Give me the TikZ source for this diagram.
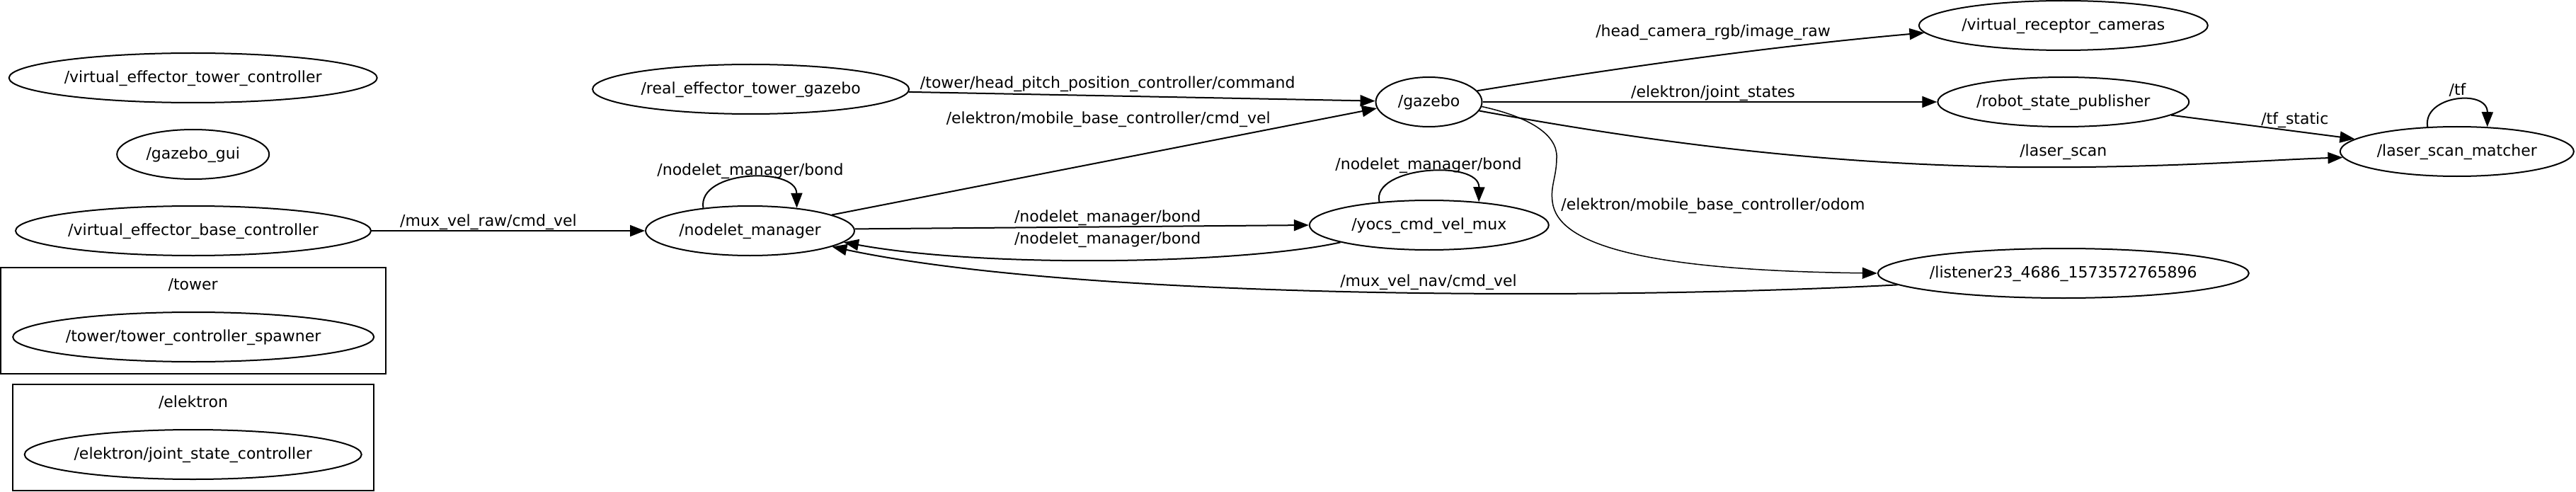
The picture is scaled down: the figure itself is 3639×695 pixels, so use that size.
\documentclass[tikz,border=0pt]{standalone}
\usepackage{fontspec}
\setmainfont{DejaVu Sans}
\usetikzlibrary{shapes.geometric,arrows.meta}
\begin{document}
\begin{tikzpicture}[x=1pt,y=-1pt,
  every node/.style={font=\fontsize{22}{26}\selectfont, text height=15pt, text depth=2pt},
  nd/.style={ellipse, draw, line width=2pt, inner xsep=0pt, inner ysep=0pt, minimum height=70pt},
  lbl/.style={inner sep=0pt},
  conn/.style={line width=2pt, -{Triangle[length=21pt,width=16pt]}},
  cluster/.style={draw, line width=2pt}]
\useasboundingbox (0,0) rectangle (3639,695);

% clusters
\draw[cluster] (1,378) rectangle (544.5,528);
\node[lbl] (ltower) at (272.7,403) {/tower};
\draw[cluster] (17.8,543) rectangle (528,693);
\node[lbl] (lelektron) at (273,569) {/elektron};

% nodes
\node[nd, minimum width=520pt] (vetc) at (272.7,110) {/virtual\_effector\_tower\_controller};
\node[nd, minimum width=215pt] (ggui) at (272.7,218) {/gazebo\_gui};
\node[nd, minimum width=502pt] (vebc) at (273,326) {/virtual\_effector\_base\_controller};
\node[nd, minimum width=510pt] (tcs) at (273.2,476) {/tower/tower\_controller\_spawner};
\node[nd, minimum width=476pt] (jsc) at (272.7,642) {/elektron/joint\_state\_controller};
\node[nd, minimum width=447pt] (retg) at (1060.6,126) {/real\_effector\_tower\_gazebo};
\node[nd, minimum width=295pt] (nm) at (1059.5,326) {/nodelet\_manager};
\node[nd, minimum width=150pt] (gz) at (2018.5,144) {/gazebo};
\node[nd, minimum width=338pt] (ycvm) at (2018.8,318) {/yocs\_cmd\_vel\_mux};
\node[nd, minimum width=408pt] (vrc) at (2914.8,36) {/virtual\_receptor\_cameras};
\node[nd, minimum width=355pt] (rsp) at (2914.8,144) {/robot\_state\_publisher};
\node[nd, minimum width=330pt] (lsm) at (3470.8,214) {/laser\_scan\_matcher};
\node[nd, minimum width=524pt, inner xsep=-4pt] (lst) at (2914.8,386) {/listener23\_4686\_1573572765896};

% edges
\draw[conn] (vebc.east) -- (nm.west);
\draw[conn] (retg.-1) -- (gz.179);
\draw[conn] (nm.11) -- (gz.187);
\draw[conn] (nm.154) .. controls (985,240) and (1125,235) .. (nm.26);
\draw[conn] (nm.1) -- (ycvm.west);
\draw[conn] (ycvm.191) .. controls (1760,372) and (1400,380) .. (nm.-7);
\draw[conn] (lst.184) .. controls (2250,425) and (1520,422) .. (nm.-11);
\draw[conn] (gz.13) .. controls (2200,110) and (2450,70) .. (vrc.183);
\draw[conn] (gz.east) -- (rsp.west);
\draw[conn] (gz.-10) .. controls (2300,195) and (2550,232) .. (2850,236) .. controls (3050,238) and (3200,226) .. (lsm.183);
\draw[conn, line width=1.5pt] (gz.-5) .. controls (2160,165) and (2200,190) .. (2199,222) .. controls (2199,250) and (2190,262) .. (2193,285) .. controls (2200,345) and (2320,382) .. (lst.west);
\draw[conn] (rsp.-7) -- (lsm.173);
\draw[conn] (lsm.140) .. controls (3422,135) and (3514,125) .. (lsm.39);
\draw[conn] (ycvm.155) .. controls (1937,235) and (2090,225) .. (ycvm.25);

% edge labels
\node[lbl] (l1) at (690,313) {/mux\_vel\_raw/cmd\_vel};
\node[lbl] (l2) at (1564.7,118) {/tower/head\_pitch\_position\_controller/command};
\node[lbl] (l3) at (1565.7,168) {/elektron/mobile\_base\_controller/cmd\_vel};
\node[lbl] (l4) at (1060,241) {/nodelet\_manager/bond};
\node[lbl] (l5) at (1564.6,307) {/nodelet\_manager/bond};
\node[lbl] (l6) at (1564.6,338) {/nodelet\_manager/bond};
\node[lbl] (l7) at (2018,398) {/mux\_vel\_nav/cmd\_vel};
\node[lbl] (l8) at (2420,45) {/head\_camera\_rgb/image\_raw};
\node[lbl] (l9) at (2420,131) {/elektron/joint\_states};
\node[lbl] (l10) at (2420,290) {/elektron/mobile\_base\_controller/odom};
\node[lbl] (l11) at (2018,233) {/nodelet\_manager/bond};
\node[lbl] (l12) at (3241.8,169) {/tf\_static};
\node[lbl] (l13) at (2914.8,214) {/laser\_scan};
\node[lbl] (l14) at (3471.5,128) {/tf};
\end{tikzpicture}
\end{document}
